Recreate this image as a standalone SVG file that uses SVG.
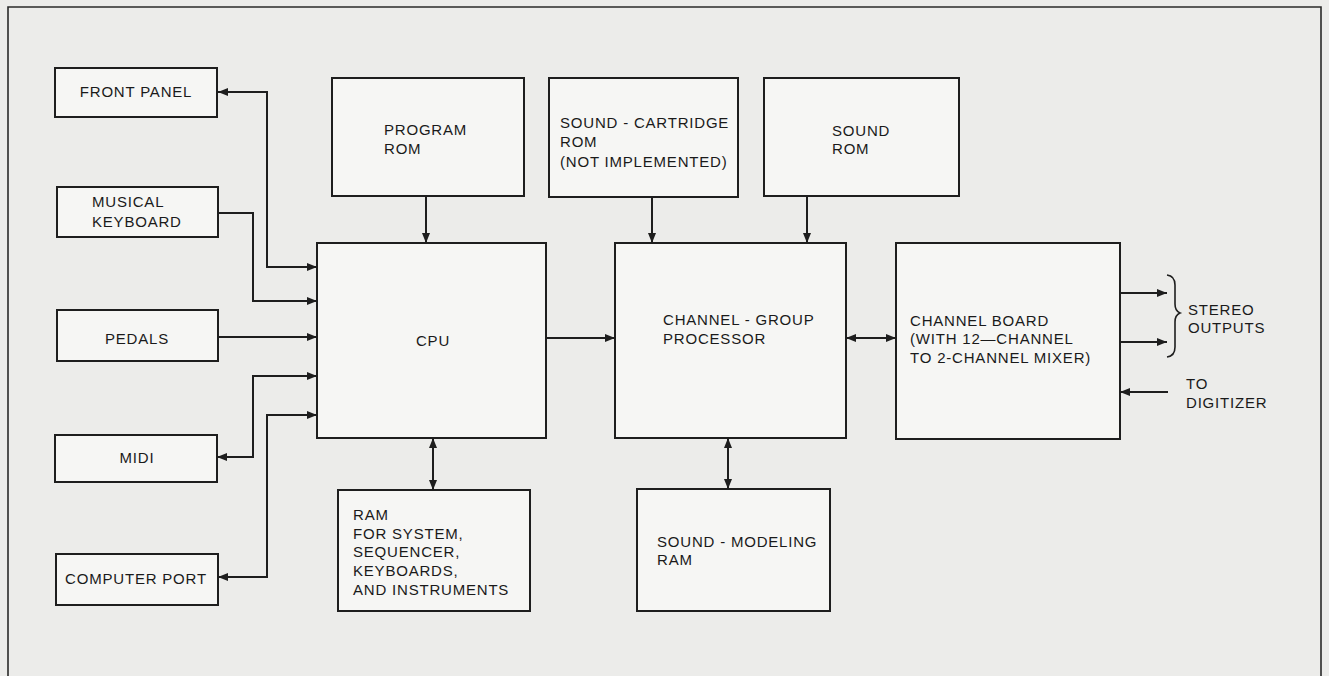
<svg xmlns="http://www.w3.org/2000/svg" width="1329" height="676" viewBox="0 0 1329 676">
  <style>
    .box { fill: #f6f6f4; stroke: #1e1e1e; stroke-width: 2; }
    .lbl { font-family: "Liberation Sans", Arial, sans-serif; font-size: 15px; letter-spacing: 0.8px; fill: #1a1a1a; }
    .mid { text-anchor: middle; }
    .wire { fill: none; stroke: #1e1e1e; stroke-width: 2; }
  </style>
  <defs>
    <marker id="arr" viewBox="0 0 10 8" refX="10" refY="4" markerWidth="10" markerHeight="8" markerUnits="userSpaceOnUse" orient="auto-start-reverse">
      <path d="M0,0 L10,4 L0,8 z" fill="#1e1e1e"/>
    </marker>
  </defs>
  <rect x="0" y="0" width="1329" height="676" fill="#ececea"/>
  <path d="M8,680 L8,7 L1321,7 L1321,680" fill="none" stroke="#2a2a2a" stroke-width="1.6"/>

  <g id="front-panel">
    <rect class="box" x="55" y="68" width="162" height="49"/>
    <text class="lbl mid" x="136" y="97">FRONT PANEL</text>
  </g>
  <g id="musical-keyboard">
    <rect class="box" x="57" y="187" width="161" height="50"/>
    <text class="lbl" x="92" y="207">MUSICAL</text>
    <text class="lbl" x="92" y="227">KEYBOARD</text>
  </g>
  <g id="pedals">
    <rect class="box" x="57" y="310" width="161" height="51"/>
    <text class="lbl mid" x="137" y="344">PEDALS</text>
  </g>
  <g id="midi">
    <rect class="box" x="55" y="435" width="162" height="47"/>
    <text class="lbl mid" x="137" y="463">MIDI</text>
  </g>
  <g id="computer-port">
    <rect class="box" x="56" y="554" width="162" height="51"/>
    <text class="lbl mid" x="136" y="584">COMPUTER PORT</text>
  </g>
  <g id="program-rom">
    <rect class="box" x="332" y="78" width="192" height="118"/>
    <text class="lbl" x="384" y="135">PROGRAM</text>
    <text class="lbl" x="384" y="154">ROM</text>
  </g>
  <g id="sound-cartridge-rom">
    <rect class="box" x="549" y="78" width="189" height="119"/>
    <text class="lbl" x="560" y="128">SOUND - CARTRIDGE</text>
    <text class="lbl" x="560" y="147">ROM</text>
    <text class="lbl" x="560" y="167">(NOT IMPLEMENTED)</text>
  </g>
  <g id="sound-rom">
    <rect class="box" x="764" y="78" width="195" height="118"/>
    <text class="lbl" x="832" y="136">SOUND</text>
    <text class="lbl" x="832" y="154">ROM</text>
  </g>
  <g id="cpu">
    <rect class="box" x="317" y="243" width="229" height="195"/>
    <text class="lbl mid" x="433" y="346">CPU</text>
  </g>
  <g id="channel-group-processor">
    <rect class="box" x="615" y="243" width="231" height="195"/>
    <text class="lbl" x="663" y="325">CHANNEL - GROUP</text>
    <text class="lbl" x="663" y="344">PROCESSOR</text>
  </g>
  <g id="channel-board">
    <rect class="box" x="896" y="243" width="224" height="196"/>
    <text class="lbl" x="910" y="326">CHANNEL BOARD</text>
    <text class="lbl" x="910" y="344">(WITH 12—CHANNEL</text>
    <text class="lbl" x="910" y="363">TO 2-CHANNEL MIXER)</text>
  </g>
  <g id="ram">
    <rect class="box" x="338" y="490" width="192" height="121"/>
    <text class="lbl" x="353" y="520">RAM</text>
    <text class="lbl" x="353" y="539">FOR SYSTEM,</text>
    <text class="lbl" x="353" y="557">SEQUENCER,</text>
    <text class="lbl" x="353" y="576">KEYBOARDS,</text>
    <text class="lbl" x="353" y="595">AND INSTRUMENTS</text>
  </g>
  <g id="sound-modeling-ram">
    <rect class="box" x="637" y="489" width="193" height="122"/>
    <text class="lbl" x="657" y="547">SOUND - MODELING</text>
    <text class="lbl" x="657" y="565">RAM</text>
  </g>
  <g id="stereo-outputs">
    <text class="lbl" x="1188" y="315">STEREO</text>
    <text class="lbl" x="1188" y="333">OUTPUTS</text>
  </g>
  <g id="to-digitizer">
    <text class="lbl" x="1186" y="389">TO</text>
    <text class="lbl" x="1186" y="408">DIGITIZER</text>
  </g>

  <g id="connectors">
    <path class="wire" d="M218,92 L267,92 L267,267 L317,267" marker-start="url(#arr)" marker-end="url(#arr)"/>
    <path class="wire" d="M218,213 L253,213 L253,301 L317,301" marker-end="url(#arr)"/>
    <path class="wire" d="M218,337 L317,337" marker-end="url(#arr)"/>
    <path class="wire" d="M217,457 L253,457 L253,376 L317,376" marker-start="url(#arr)" marker-end="url(#arr)"/>
    <path class="wire" d="M218,577 L267,577 L267,415 L317,415" marker-start="url(#arr)" marker-end="url(#arr)"/>
    <path class="wire" d="M426,196 L426,243" marker-end="url(#arr)"/>
    <path class="wire" d="M652,197 L652,243" marker-end="url(#arr)"/>
    <path class="wire" d="M807,196 L807,243" marker-end="url(#arr)"/>
    <path class="wire" d="M546,338 L615,338" marker-end="url(#arr)"/>
    <path class="wire" d="M846,338 L896,338" marker-start="url(#arr)" marker-end="url(#arr)"/>
    <path class="wire" d="M433,438 L433,490" marker-start="url(#arr)" marker-end="url(#arr)"/>
    <path class="wire" d="M728,438 L728,489" marker-start="url(#arr)" marker-end="url(#arr)"/>
    <path class="wire" d="M1120,293 L1167,293" marker-end="url(#arr)"/>
    <path class="wire" d="M1120,342 L1167,342" marker-end="url(#arr)"/>
    <path class="wire" d="M1168,392 L1120,392" marker-end="url(#arr)"/>
    <path d="M1167,275 Q1175,276 1175,285 L1175,304 Q1175,311 1180,313 Q1175,315 1175,322 L1175,347 Q1175,356 1167,357" fill="none" stroke="#1e1e1e" stroke-width="1.6"/>
  </g>
</svg>
